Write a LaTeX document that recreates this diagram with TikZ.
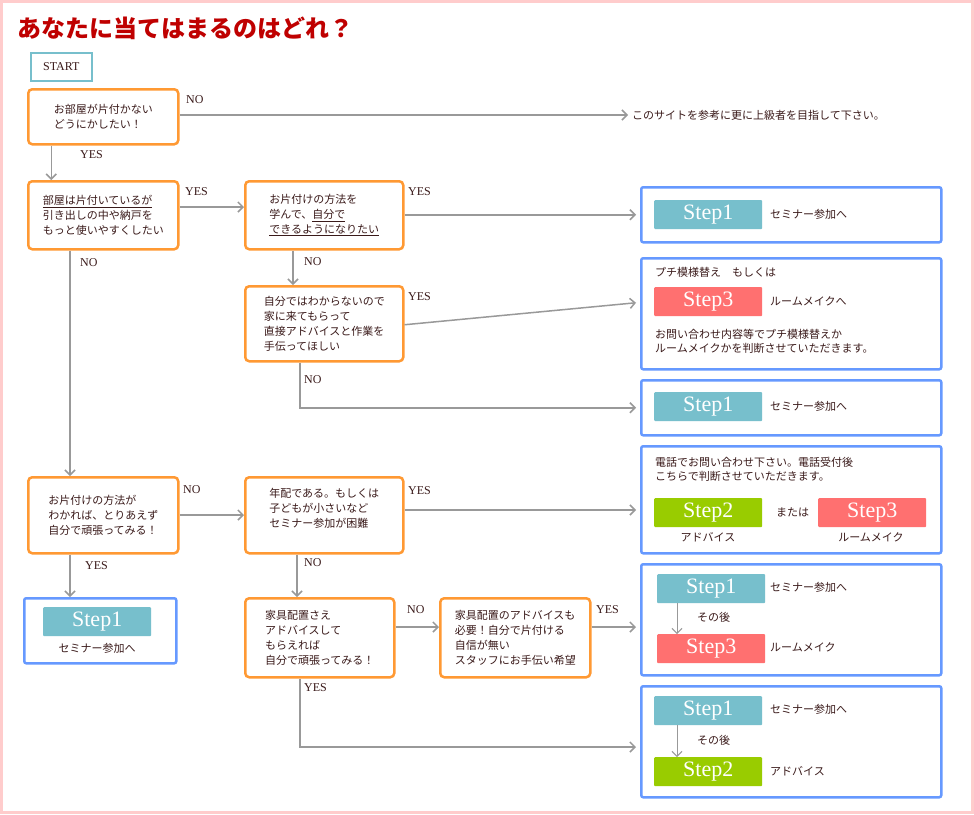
\documentclass[tikz,border=0pt]{standalone}
\usepackage{fontspec}
\setmainfont{Noto Sans CJK JP}
\setsansfont{Liberation Serif}
\usetikzlibrary{arrows.meta,positioning}
\definecolor{qorange}{HTML}{FF9933}
\definecolor{rblue}{HTML}{6699FF}
\definecolor{sone}{HTML}{77BFCC}
\definecolor{stwo}{HTML}{99CC00}
\definecolor{sthree}{HTML}{FF7070}
\definecolor{ink}{HTML}{3A1A1A}
\definecolor{edgegray}{HTML}{999999}
\tikzset{
  qbox/.style={draw=qorange,line width=2.5pt,rounded corners=4pt,fill=white,
    anchor=north west,inner sep=5pt,align=left,font=\fontsize{11}{15}\selectfont},
  rbox/.style={draw=rblue,line width=2.5pt,rounded corners=2pt,fill=white,anchor=north west},
  stepbox/.style={anchor=north west,minimum width=108pt,minimum height=29pt,text=white,
    font=\sffamily\fontsize{22}{22}\selectfont,inner sep=0pt,rounded corners=1pt},
  txt/.style={anchor=west,inner sep=0pt,font=\fontsize{11}{14}\selectfont,align=left},
  yn/.style={anchor=west,inner sep=0pt,font=\sffamily\fontsize{12}{12}\selectfont},
  flow/.style={draw=edgegray,line width=1.5pt,-{Straight Barb[length=5pt,width=10pt]}}
}
\begin{document}
\begin{tikzpicture}[x=1pt,y=-1pt,text=ink]
\draw[draw=red!20,line width=3pt,fill=white] (1.5,1.5) rectangle (972.5,812.5);
\node[anchor=west,text=red!75!black,font=\bfseries\fontsize{24}{24}\selectfont] (title) at (14,28) {あなたに当てはまるのはどれ？};
\node[draw=sone,line width=1.5pt,anchor=north west,minimum width=61pt,minimum height=28pt,font=\sffamily\fontsize{12}{12}\selectfont] (start) at (30,52) {START};

% question boxes
\node[qbox,minimum width=150pt,minimum height=55pt] (A) at (27,88) {お部屋が片付かない\\どうにかしたい！};
\node[qbox,minimum width=150pt,minimum height=68pt,inner sep=2pt] (B) at (27,180) {\underline{部屋は片付いているが}\\引き出しの中や納戸を\\もっと使いやすくしたい};
\node[qbox,minimum width=158pt,minimum height=68pt] (C) at (244,180) {お片付けの方法を\\学んで、\underline{自分で}\\\underline{できるようになりたい}};
\node[qbox,minimum width=158pt,minimum height=75pt] (D) at (244,285) {自分ではわからないので\\家に来てもらって\\直接アドバイスと作業を\\手伝ってほしい};
\node[qbox,minimum width=150pt,minimum height=76pt] (E) at (27,476) {お片付けの方法が\\わかれば、とりあえず\\自分で頑張ってみる！};
\node[qbox,minimum width=158pt,minimum height=76pt] (F) at (244,476) {年配である。もしくは\\子どもが小さいなど\\セミナー参加が困難\\ };
\node[qbox,minimum width=149pt,minimum height=79pt] (G) at (244,597) {家具配置さえ\\アドバイスして\\もらえれば\\自分で頑張ってみる！};
\node[qbox,minimum width=150pt,minimum height=79pt,inner sep=3pt] (H) at (439,597) {家具配置のアドバイスも\\必要！自分で片付ける\\自信が無い\\スタッフにお手伝い希望};

\node[txt] (site) at (632,115) {このサイトを参考に更に上級者を目指して下さい。};

% result boxes
\node[rbox,minimum width=300pt,minimum height=55pt] (R1) at (640,186) {};
\node[stepbox,fill=sone] (R1s) at (654,200) {Step1};
\node[txt] at (770,214) {セミナー参加へ};

\node[rbox,minimum width=300pt,minimum height=111pt] (R2) at (640,257) {};
\node[txt] at (655,272) {プチ模様替え　もしくは};
\node[stepbox,fill=sthree] (R2s) at (654,287) {Step3};
\node[txt] at (770,301) {ルームメイクへ};
\node[txt] at (655,341) {お問い合わせ内容等でプチ模様替えか\\ルームメイクかを判断させていただきます。};

\node[rbox,minimum width=300pt,minimum height=55pt] (R3) at (640,379) {};
\node[stepbox,fill=sone] (R3s) at (654,392) {Step1};
\node[txt] at (770,406) {セミナー参加へ};

\node[rbox,minimum width=300pt,minimum height=107pt] (R4) at (640,445) {};
\node[txt] at (655,469) {電話でお問い合わせ下さい。電話受付後\\こちらで判断させていただきます。};
\node[stepbox,fill=stwo] (R4a) at (654,498) {Step2};
\node[txt,anchor=center] at (708,537) {アドバイス};
\node[txt] at (776,512) {または};
\node[stepbox,fill=sthree] (R4b) at (818,498) {Step3};
\node[txt,anchor=center] at (871,537) {ルームメイク};

\node[rbox,minimum width=152pt,minimum height=65pt] (S) at (23,597) {};
\node[stepbox,fill=sone] (Ss) at (43,607) {Step1};
\node[txt,anchor=center] at (97,648) {セミナー参加へ};

\node[rbox,minimum width=300pt,minimum height=111pt] (R5) at (640,563) {};
\node[stepbox,fill=sone] (R5a) at (657,574) {Step1};
\node[txt] at (770,587) {セミナー参加へ};
\node[txt] at (697,617) {その後};
\node[stepbox,fill=sthree] (R5b) at (657,634) {Step3};
\node[txt] at (770,647) {ルームメイク};

\node[rbox,minimum width=300pt,minimum height=111pt] (R6) at (640,685) {};
\node[stepbox,fill=sone] (R6a) at (654,696) {Step1};
\node[txt] at (770,709) {セミナー参加へ};
\node[txt] at (697,740) {その後};
\node[stepbox,fill=stwo] (R6b) at (654,757) {Step2};
\node[txt] at (770,771) {アドバイス};

% connectors
\draw[flow] (A.east |- site) -- ([xshift=-4pt]site.west);
\draw[flow] (A.south -| start.south) ++(-10,0) coordinate (a0) -- (a0 |- B.north);
\draw[flow] (B.east |- 0,207) -- (C.west |- 0,207);
\draw[flow] (C.east |- R1.west) -- ([xshift=-4pt]R1.west);
\draw[flow] (C.south -| 293,0) -- (D.north -| 293,0);
\draw[flow] (D.east |- R2.west) ++(0,11) -- ([xshift=-4pt,yshift=11pt]R2.west);
\draw[flow] (D.south -| 300,0) |- ([xshift=-4pt]R3.west);
\draw[flow] (B.south -| 70,0) -- (E.north -| 70,0);
\draw[flow] (E.east |- 0,515) -- (F.west |- 0,515);
\draw[flow] (F.east |- 0,510) -- ([xshift=-4pt]R4.west |- 0,510);
\draw[flow] (E.south -| 70,0) -- (S.north -| 70,0);
\draw[flow] (F.south -| 297,0) -- (G.north -| 297,0);
\draw[flow] (G.east |- 0,627) -- (H.west |- 0,627);
\draw[flow] (H.east |- 0,627) -- ([xshift=-4pt]R5.west |- 0,627);
\draw[flow] (G.south -| 300,0) |- ([xshift=-4pt]R6.west |- 0,747);
\draw[flow,line width=1pt] (R5a.south -| 677,0) -- (R5b.north -| 677,0);
\draw[flow,line width=1pt] (R6a.south -| 677,0) -- (R6b.north -| 677,0);

% labels
\node[yn] at (186,100) {NO};
\node[yn] at (80,155) {YES};
\node[yn] at (185,192) {YES};
\node[yn] at (408,192) {YES};
\node[yn] at (304,262) {NO};
\node[yn] at (80,263) {NO};
\node[yn] at (408,297) {YES};
\node[yn] at (304,380) {NO};
\node[yn] at (183,490) {NO};
\node[yn] at (408,491) {YES};
\node[yn] at (85,566) {YES};
\node[yn] at (304,563) {NO};
\node[yn] at (407,610) {NO};
\node[yn] at (596,610) {YES};
\node[yn] at (304,688) {YES};
\useasboundingbox (0,0) rectangle (974,814);
\end{tikzpicture}
\end{document}
